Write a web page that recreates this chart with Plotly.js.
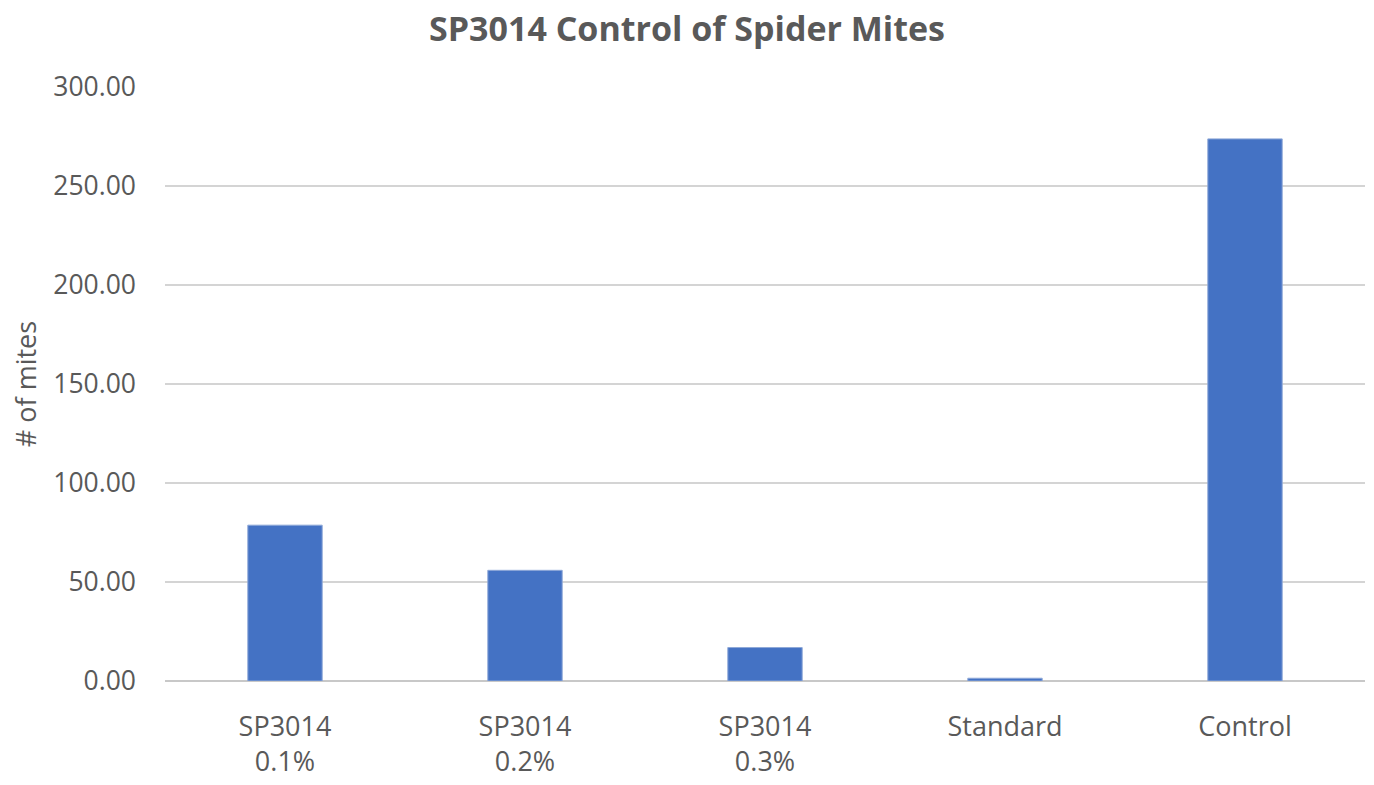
<!DOCTYPE html>
<html>
<head>
<meta charset="utf-8">
<script src="https://cdn.plot.ly/plotly-3.0.1.min.js"></script>
<style>html,body{margin:0;padding:0;background:#fff;}#chart{width:1374px;height:785px;}</style>
</head>
<body>
<div id="chart"></div>
<script>
const categories = ["SP3014<br>0.1%", "SP3014<br>0.2%", "SP3014<br>0.3%", "Standard", "Control"];
const mites = [78.7, 55.9, 16.9, 1.4, 273.8];
const yTickVals = [0, 50, 100, 150, 200, 250, 300];
const yTickText = ["0.00", "50.00", "100.00", "150.00", "200.00", "250.00", "300.00"];

const font = "Open Sans, Noto Sans, sans-serif";
const trace = {
  type: "bar",
  x: categories,
  y: mites,
  marker: {color: "#4472C4", line: {color: "#8FA9D8", width: 1}},
  hoverinfo: "x+y"
};
const layout = {
  width: 1374, height: 785,
  margin: {l: 165, r: 9, t: 87, b: 104, pad: 0},
  paper_bgcolor: "#fff", plot_bgcolor: "#fff",
  bargap: 0.69,
  showlegend: false,
  title: {text: "<b>SP3014 Control of Spider Mites</b>", x: 0.5, xanchor: "center", y: 0.963, yanchor: "middle",
          font: {family: font, size: 34, color: "#595959"}},
  xaxis: {
    type: "category", showgrid: false, zeroline: false, showline: false, ticks: "",
    tickfont: {family: font, size: 27, color: "#595959"}, ticklabelstandoff: 27
  },
  yaxis: {
    range: [0, 300], tickvals: yTickVals, ticktext: yTickText,
    showgrid: true, gridcolor: "#D4D4D4", gridwidth: 2,
    zeroline: true, zerolinecolor: "#C8C8C8", zerolinewidth: 2,
    showline: false, ticks: "", ticklabelstandoff: 28,
    tickfont: {family: font, size: 26.5, color: "#595959"},
    title: {text: "# of mites", font: {family: font, size: 27, color: "#595959"}, standoff: 8}
  }
};
Plotly.newPlot("chart", [trace], layout, {displayModeBar: false, staticPlot: true});
</script>
</body>
</html>
